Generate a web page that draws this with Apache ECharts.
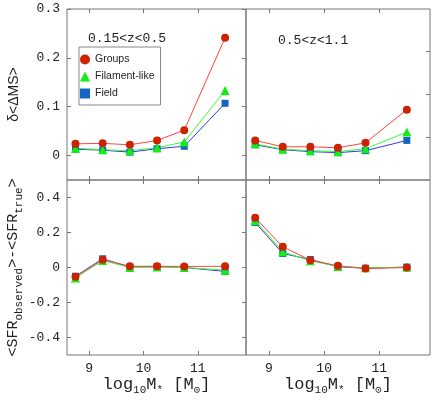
<!DOCTYPE html>
<html><head><meta charset="utf-8">
<script src="https://cdn.jsdelivr.net/npm/echarts@6/dist/echarts.min.js"></script>
<style>html,body{margin:0;padding:0;background:#fff}#c{width:436px;height:403px}</style>
</head><body><div id="c"></div>
<script>
var masses = [8.75, 9.25, 9.75, 10.25, 10.75, 11.5];
var xTicks = [9, 10, 11];
var dmsTicks = [0, 0.1, 0.2, 0.3];
var sfrTicks = [-0.4, -0.2, 0, 0.2, 0.4];
var seriesNames = ['Groups', 'Filament-like', 'Field'];
var panelLabels = ['0.15<z<0.5', '0.5<z<1.1'];

// delta <Delta MS>, low z
var dmsGroupsLow = [0.024, 0.025, 0.022, 0.031, 0.052, 0.241];
var dmsFilLow    = [0.015, 0.012, 0.010, 0.016, 0.028, 0.133];
var dmsFieldLow  = [0.013, 0.011, 0.007, 0.014, 0.019, 0.107];
// delta <Delta MS>, high z
var dmsGroupsHigh = [0.031, 0.018, 0.018, 0.016, 0.026, 0.094];
var dmsFilHigh    = [0.024, 0.013, 0.010, 0.008, 0.014, 0.048];
var dmsFieldHigh  = [0.022, 0.012, 0.008, 0.006, 0.010, 0.031];
// <SFR obs> - <SFR true>, low z
var sfrGroupsLow = [-0.053, 0.045, 0.007, 0.007, 0.006, 0.007];
var sfrFilLow    = [-0.060, 0.040, 0.000, 0.003, 0.000, -0.015];
var sfrFieldLow  = [-0.050, 0.050, 0.002, 0.005, 0.000, -0.022];
// <SFR obs> - <SFR true>, high z
var sfrGroupsHigh = [0.284, 0.118, 0.042, 0.010, -0.006, 0.000];
var sfrFilHigh    = [0.267, 0.090, 0.038, 0.006, -0.002, 0.002];
var sfrFieldHigh  = [0.257, 0.080, 0.046, 0.004, -0.004, 0.002];

var MONO = '"Liberation Mono", "DejaVu Sans Mono", monospace';
var SANS = '"Liberation Sans", Arial, sans-serif';
var AX = '#777';

var styles = {
  'Groups':        {sym: 'circle',   size: 8, fill: '#cc2200', line: '#ff4444'},
  'Filament-like': {sym: 'triangle', size: 9, fill: '#11ee11', line: '#33ff33'},
  'Field':         {sym: 'rect',     size: 7, fill: '#1466c4', line: '#3838e0'}
};

function zip(ys) { return masses.map(function (x, i) { return [x, ys[i]]; }); }

var grids = [
  {left: 67, top: 9, width: 179, height: 171},
  {left: 246, top: 9, width: 184, height: 171},
  {left: 67, top: 180, width: 179, height: 175},
  {left: 246, top: 180, width: 184, height: 175}
];
grids.forEach(function (g) { g.show = true; g.borderColor = AX; g.borderWidth = 1; g.backgroundColor = 'transparent'; });

var xRanges = [[8.594, 11.885], [8.583, 11.92], [8.594, 11.885], [8.583, 11.92]];
var xName = {
  rich: {
    m: {fontFamily: MONO, fontSize: 17, color: '#222', verticalAlign: 'top', lineHeight: 17},
    s: {fontFamily: MONO, fontSize: 11, color: '#222', verticalAlign: 'top', lineHeight: 11, padding: [9, 0, 0, 0]}
  }
};
var xNameText = '{m|log}{s|10}{m|M}{s|*}{m| [M}{s|⊙}{m|]}';

var xAxes = [];
for (var i = 0; i < 4; i++) {
  var bottomRow = i >= 2;
  xAxes.push({
    type: 'value', gridIndex: i, min: xRanges[i][0], max: xRanges[i][1], position: 'bottom',
    axisLine: {show: false, onZero: false}, splitLine: {show: false},
    axisTick: {show: true, inside: true, length: 4, customValues: xTicks, lineStyle: {color: AX}},
    axisLabel: {show: bottomRow, customValues: xTicks, fontFamily: MONO, fontSize: 13, color: '#222', margin: 7},
    name: bottomRow ? xNameText : '', nameLocation: 'middle', nameGap: 19, nameTextStyle: xName
  });
  xAxes.push({
    type: 'value', gridIndex: i, min: xRanges[i][0], max: xRanges[i][1], position: 'top',
    axisLine: {show: false, onZero: false}, splitLine: {show: false},
    axisTick: {show: true, inside: true, length: 4, customValues: xTicks, lineStyle: {color: AX}},
    axisLabel: {show: false, customValues: xTicks}
  });
}

var yNameTop = {
  rich: {m: {fontFamily: SANS, fontSize: 14, color: '#222'}}
};
var yNameBottom = {
  rich: {
    m: {fontFamily: MONO, fontSize: 15, color: '#222', verticalAlign: 'top', lineHeight: 15},
    s: {fontFamily: MONO, fontSize: 11, color: '#222', verticalAlign: 'top', lineHeight: 11, padding: [8, 0, 0, 0]}
  }
};

var yAxes = [];
for (var j = 0; j < 4; j++) {
  var isTopRow = j < 2, leftCol = (j % 2 === 0);
  var rng = isTopRow ? [-0.05, 0.3] : [-0.5, 0.5];
  var ticks = isTopRow ? dmsTicks : sfrTicks;
  yAxes.push({
    type: 'value', gridIndex: j, min: rng[0], max: rng[1], position: 'left',
    axisLine: {show: false, onZero: false}, splitLine: {show: false},
    axisTick: {show: leftCol, inside: true, length: 4, customValues: ticks, lineStyle: {color: AX}},
    axisLabel: {show: leftCol, customValues: ticks, fontFamily: MONO, fontSize: 13, color: '#222', margin: 7},
    name: leftCol ? (isTopRow ? '{m|δ<ΔMS>}' : '{m|<SFR}{s|observed}{m|>-<SFR}{s|true}{m|>}') : '',
    nameLocation: 'middle', nameRotate: 90, nameGap: isTopRow ? 46 : 44,
    nameTextStyle: isTopRow ? yNameTop : yNameBottom
  });
  yAxes.push({
    type: 'value', gridIndex: j, min: rng[0], max: rng[1], position: 'right',
    axisLine: {show: false, onZero: false}, splitLine: {show: false},
    axisTick: {show: (leftCol || j === 1), inside: true, length: 4,
      customValues: (j === 1 ? [0.038, 0.125, 0.213] : ticks), lineStyle: {color: AX}},
    axisLabel: {show: false, customValues: ticks}
  });
}

var panelData = [
  {'Groups': dmsGroupsLow, 'Filament-like': dmsFilLow, 'Field': dmsFieldLow},
  {'Groups': dmsGroupsHigh, 'Filament-like': dmsFilHigh, 'Field': dmsFieldHigh},
  {'Groups': sfrGroupsLow, 'Filament-like': sfrFilLow, 'Field': sfrFieldLow},
  {'Groups': sfrGroupsHigh, 'Filament-like': sfrFilHigh, 'Field': sfrFieldHigh}
];

var series = [];
var drawOrder = ['Field', 'Filament-like', 'Groups'];
panelData.forEach(function (pd, p) {
  drawOrder.forEach(function (name) {
    var st = styles[name];
    series.push({
      type: 'line', name: name, xAxisIndex: p * 2, yAxisIndex: p * 2,
      data: zip(pd[name]), symbol: st.sym, symbolSize: st.size, showSymbol: true,
      itemStyle: {color: st.fill, borderWidth: 0},
      lineStyle: {color: st.line, width: 1},
      emphasis: {disabled: true}, animation: false, z: 3
    });
  });
});

var option = {
  animation: false,
  backgroundColor: '#fff',
  grid: grids,
  xAxis: xAxes,
  yAxis: yAxes,
  title: [
    {text: panelLabels[0], left: 83, top: 27, textStyle: {fontFamily: MONO, fontSize: 13, fontWeight: 'normal', color: '#222'}},
    {text: panelLabels[1], left: 273, top: 29, textStyle: {fontFamily: MONO, fontSize: 13, fontWeight: 'normal', color: '#222'}}
  ],
  legend: {
    orient: 'vertical', left: 79, top: 47,
    backgroundColor: '#fff', borderColor: '#888', borderWidth: 1,
    padding: [7, 6, 6, 1], itemWidth: 10, itemHeight: 10, itemGap: 6,
    textStyle: {fontFamily: SANS, fontSize: 10.5, color: '#222'},
    selectedMode: false,
    data: seriesNames.map(function (n) {
      return {name: n, icon: styles[n].sym, itemStyle: {color: styles[n].fill}};
    })
  },
  series: series
};

var chart = echarts.init(document.getElementById('c'), null, {renderer: 'canvas'});
chart.setOption(option);
</script>
</body></html>
